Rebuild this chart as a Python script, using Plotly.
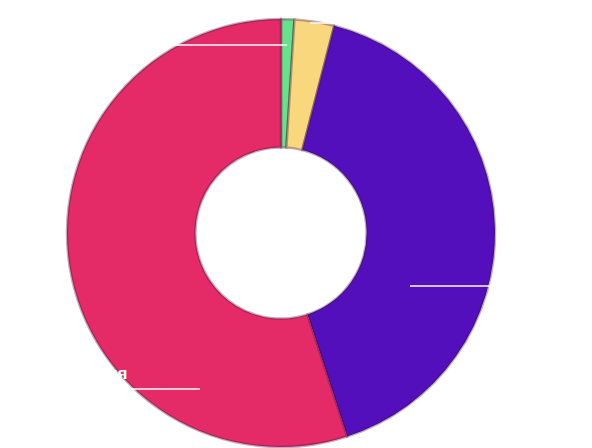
import plotly.graph_objects as go

W, H = 592, 448
OFF = 8  # page body margin in the browser

# Data
categories = ["Другие", "Беларусь", "Казахстан", "Россия"]
values = [1, 3, 41, 55]
colors = ["#66E28C", "#F9D77C", "#520FBB", "#E42A67"]

# Label layout (screen pixel anchors for label text and leader lines)
label_lines = [  # (x0, x1, y)
    (175, 287, 45),
    (310, 333, 23),
    (410, 490, 286),
    (130, 200, 389),
]
label_text_pos = [  # (x, y, xanchor)
    (173, 31, "right"),
    (335, 16, "left"),
    (492, 272, "left"),
    (129, 373, "right"),
]


def px(x):
    return (x - OFF) / W


def py(y):
    return 1 - (y - OFF) / H


cx, cy, r = 281, 233, 214

fig = go.Figure(
    go.Pie(
        labels=categories,
        values=values,
        hole=0.40,
        sort=False,
        direction="clockwise",
        rotation=0,
        textinfo="none",
        hoverinfo="label+percent",
        marker=dict(colors=colors, line=dict(color="rgba(70,20,60,0.35)", width=2.5)),
        domain=dict(x=[px(cx - r), px(cx + r)], y=[py(cy + r), py(cy - r)]),
        showlegend=False,
    )
)

shapes = []
for x0, x1, y in label_lines:
    shapes.append(
        dict(type="line", xref="paper", yref="paper", x0=px(x0), x1=px(x1),
             y0=py(y), y1=py(y), line=dict(color="white", width=1.5))
    )

annotations = []
for name, (x, y, anc) in zip(categories, label_text_pos):
    annotations.append(
        dict(text="<b>" + name + "</b>", x=px(x), y=py(y), xref="paper", yref="paper",
             xanchor=anc, yanchor="middle", showarrow=False,
             font=dict(color="white", size=17, family="Liberation Sans, Arial, sans-serif"))
    )

fig.update_layout(
    width=W,
    height=H,
    margin=dict(l=0, r=0, t=0, b=0),
    paper_bgcolor="white",
    plot_bgcolor="white",
    shapes=shapes,
    annotations=annotations,
)

fig.write_html("out.html")
